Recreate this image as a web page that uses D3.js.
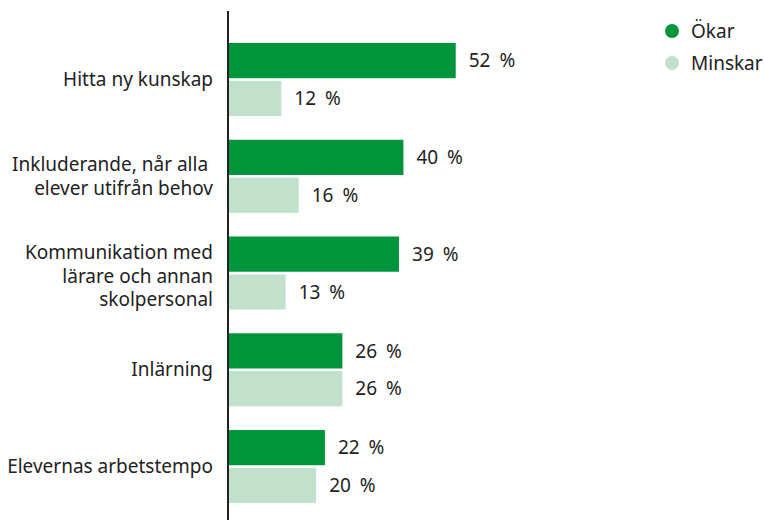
<!DOCTYPE html>
<html>
<head>
<meta charset="utf-8">
<script src="https://cdn.jsdelivr.net/npm/d3@7"></script>
<style>
  body { margin: 0; background: #fff; }
  svg { display: block; font-family: "Noto Sans", sans-serif; }
</style>
</head>
<body>
<svg id="chart"></svg>
<script>
const width = 764;
const height = 520;

const categories = [
    ["Hitta ny kunskap"],
    ["Inkluderande, når alla ", "elever utifrån behov"],
    ["Kommunikation med", "lärare och annan", "skolpersonal"],
    ["Inlärning"],
    ["Elevernas arbetstempo"]
];
const seriesNames = ["Ökar", "Minskar"];
const okar = [52, 40, 39, 26, 22];
const minskar = [12, 16, 13, 26, 20];
const colors = ["#00943b", "#c1e1cd"];

const svg = d3.select("#chart").attr("width", width).attr("height", height);

const axisX = 228;
const x = d3.scaleLinear().domain([0, 100]).range([axisX + 1, axisX + 1 + 436]);
const y = d3.scaleBand().domain(d3.range(categories.length)).range([31.4, 514.7]).paddingInner(0.245).paddingOuter(0.12);
const ySub = d3.scaleBand().domain(seriesNames).range([0, y.bandwidth()]).paddingInner(0.07);

const rows = categories.map((c, i) => ({ i, lines: c, values: [okar[i], minskar[i]] }));

const groups = svg.selectAll(".group").data(rows).enter().append("g")
    .attr("class", "group")
    .attr("transform", d => `translate(0,${y(d.i)})`);

groups.selectAll("rect").data(d => d.values.map((v, k) => ({ v, s: seriesNames[k], k })))
    .enter().append("rect")
    .attr("x", x(0))
    .attr("y", d => ySub(d.s))
    .attr("width", d => x(d.v) - x(0))
    .attr("height", ySub.bandwidth())
    .attr("fill", d => colors[d.k]);

groups.selectAll(".val").data(d => d.values.map((v, k) => ({ v, s: seriesNames[k] })))
    .enter().append("text")
    .attr("class", "val")
    .attr("x", d => x(d.v) + 13)
    .attr("y", d => ySub(d.s) + ySub.bandwidth() / 2)
    .attr("dy", "0.35em")
    .attr("font-size", 19)
    .style("word-spacing", "4px")
    .attr("fill", "#222")
    .text(d => d.v + " %");

// category labels
const lineH = 23.5;
groups.append("text")
    .attr("text-anchor", "end")
    .attr("font-size", 19)
    .attr("fill", "#222")
    .style("white-space", "pre")
    .each(function(d) {
        const t = d3.select(this);
        const n = d.lines.length;
        d.lines.forEach((l, j) => {
            t.append("tspan")
                .attr("x", 213)
                .attr("y", y.bandwidth() / 2 + (j - (n - 1) / 2) * lineH + (n === 3 ? 3 : 0))
                .attr("dy", "0.35em")
                .text(l);
        });
    });

// axis line
svg.append("line")
    .attr("x1", axisX).attr("x2", axisX)
    .attr("y1", 11).attr("y2", height)
    .attr("stroke", "#222")
    .attr("stroke-width", 2);

// legend
const legend = svg.selectAll(".legend").data(seriesNames).enter().append("g")
    .attr("class", "legend")
    .attr("transform", (d, i) => `translate(672,${31 + i * 32})`);
legend.append("circle").attr("r", 7).attr("fill", (d, i) => colors[i]);
legend.append("text").attr("x", 19).attr("dy", "0.35em")
    .attr("font-size", 19).attr("fill", "#222").text(d => d);
</script>
</body>
</html>
